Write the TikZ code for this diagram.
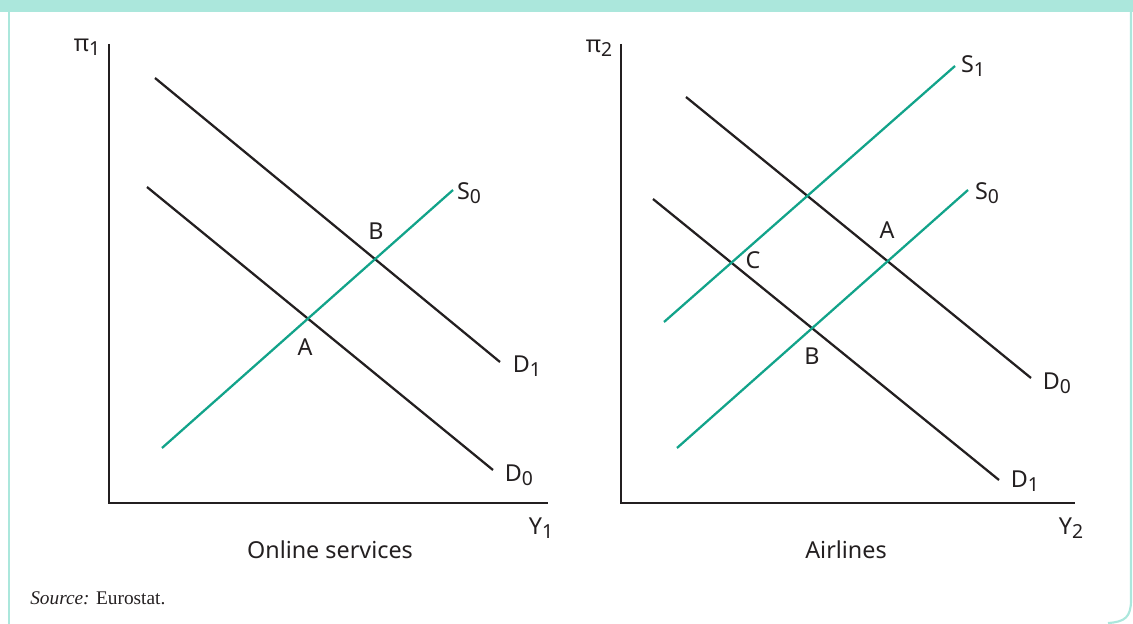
\documentclass[tikz,border=0pt]{standalone}
\usepackage{fontspec}
\setmainfont{Liberation Serif}
\newfontfamily\lblfont{Noto Sans}
\definecolor{frameteal}{HTML}{ABE7DC}
\definecolor{supteal}{HTML}{12A38A}
\definecolor{demblack}{HTML}{231F20}
\newcommand{\lsub}[1]{\raisebox{-0.35ex}{\fontsize{14.5}{16}\selectfont #1}}
\begin{document}
\begin{tikzpicture}[x=0.75pt,y=-0.75pt,
  lbl/.style={font=\lblfont\fontsize{17.5}{20}\selectfont, inner sep=0pt, text=demblack},
  axis/.style={draw=demblack, line width=1.4pt},
  demand/.style={draw=demblack, line width=1.7pt},
  supply/.style={draw=supteal, line width=1.7pt}]
\useasboundingbox (0,0) rectangle (1133,624);
% frame
\fill[frameteal] (0,0) rectangle (1133,12);
\draw[frameteal, line width=1.6pt] (9,12) -- (9,624);
\draw[frameteal, line width=1.6pt] (1131,12) -- (1131,600) .. controls (1131,617) and (1125,622) .. (1108,623);
% ---------- left panel ----------
\coordinate (lyt) at (109,44);
\coordinate (lo) at (109,503);
\coordinate (lxr) at (548,503);
\draw[axis] (lyt) -- (lo) -- (lxr);
\node[lbl] (lpi) at (87,47) {π\lsub{1}};
\node[lbl] (ly) at (541,528) {Y\lsub{1}};
\node[lbl] (ltitle) at (330,550) {Online services};
\coordinate (ld1a) at (155,78);
\coordinate (ld1b) at (500,362);
\coordinate (ld0a) at (147,187);
\coordinate (ld0b) at (493,470);
\coordinate (ls0a) at (162,448);
\coordinate (ls0b) at (453,190);
\draw[demand] (ld1a) -- (ld1b);
\draw[demand] (ld0a) -- (ld0b);
\draw[supply] (ls0a) -- (ls0b);
\node[lbl] (lD1) at (527,366) {D\lsub{1}};
\node[lbl] (lD0) at (519,475) {D\lsub{0}};
\node[lbl] (lS0) at (469,193) {S\lsub{0}};
\node[lbl] (lA) at (305,347) {A};
\node[lbl] (lB) at (376,231) {B};
% ---------- right panel ----------
\coordinate (ryt) at (621,44);
\coordinate (ro) at (621,503);
\coordinate (rxr) at (1075,503);
\draw[axis] (ryt) -- (ro) -- (rxr);
\node[lbl] (rpi) at (599,48) {π\lsub{2}};
\node[lbl] (ry) at (1071,528) {Y\lsub{2}};
\node[lbl] (rtitle) at (846,550) {Airlines};
\coordinate (rs1a) at (664,322);
\coordinate (rs1b) at (955,66);
\coordinate (rs0a) at (677,448);
\coordinate (rs0b) at (968,190);
\coordinate (rd0a) at (686,97);
\coordinate (rd0b) at (1031,378);
\coordinate (rd1a) at (653,199);
\coordinate (rd1b) at (999,480);
\draw[demand] (rd0a) -- (rd0b);
\draw[demand] (rd1a) -- (rd1b);
\draw[supply] (rs1a) -- (rs1b);
\draw[supply] (rs0a) -- (rs0b);
\node[lbl] (rS1) at (973,66) {S\lsub{1}};
\node[lbl] (rS0) at (987,193) {S\lsub{0}};
\node[lbl] (rD0) at (1057,383) {D\lsub{0}};
\node[lbl] (rD1) at (1025,481) {D\lsub{1}};
\node[lbl] (rA) at (887,230) {A};
\node[lbl] (rB) at (812,356) {B};
\node[lbl] (rC) at (753,260) {C};
% source
\node[anchor=west, inner sep=0pt, font=\fontsize{14.5}{17}\selectfont, text=demblack] (src) at (30,598) {\textit{Source:} Eurostat.};
\end{tikzpicture}
\end{document}
